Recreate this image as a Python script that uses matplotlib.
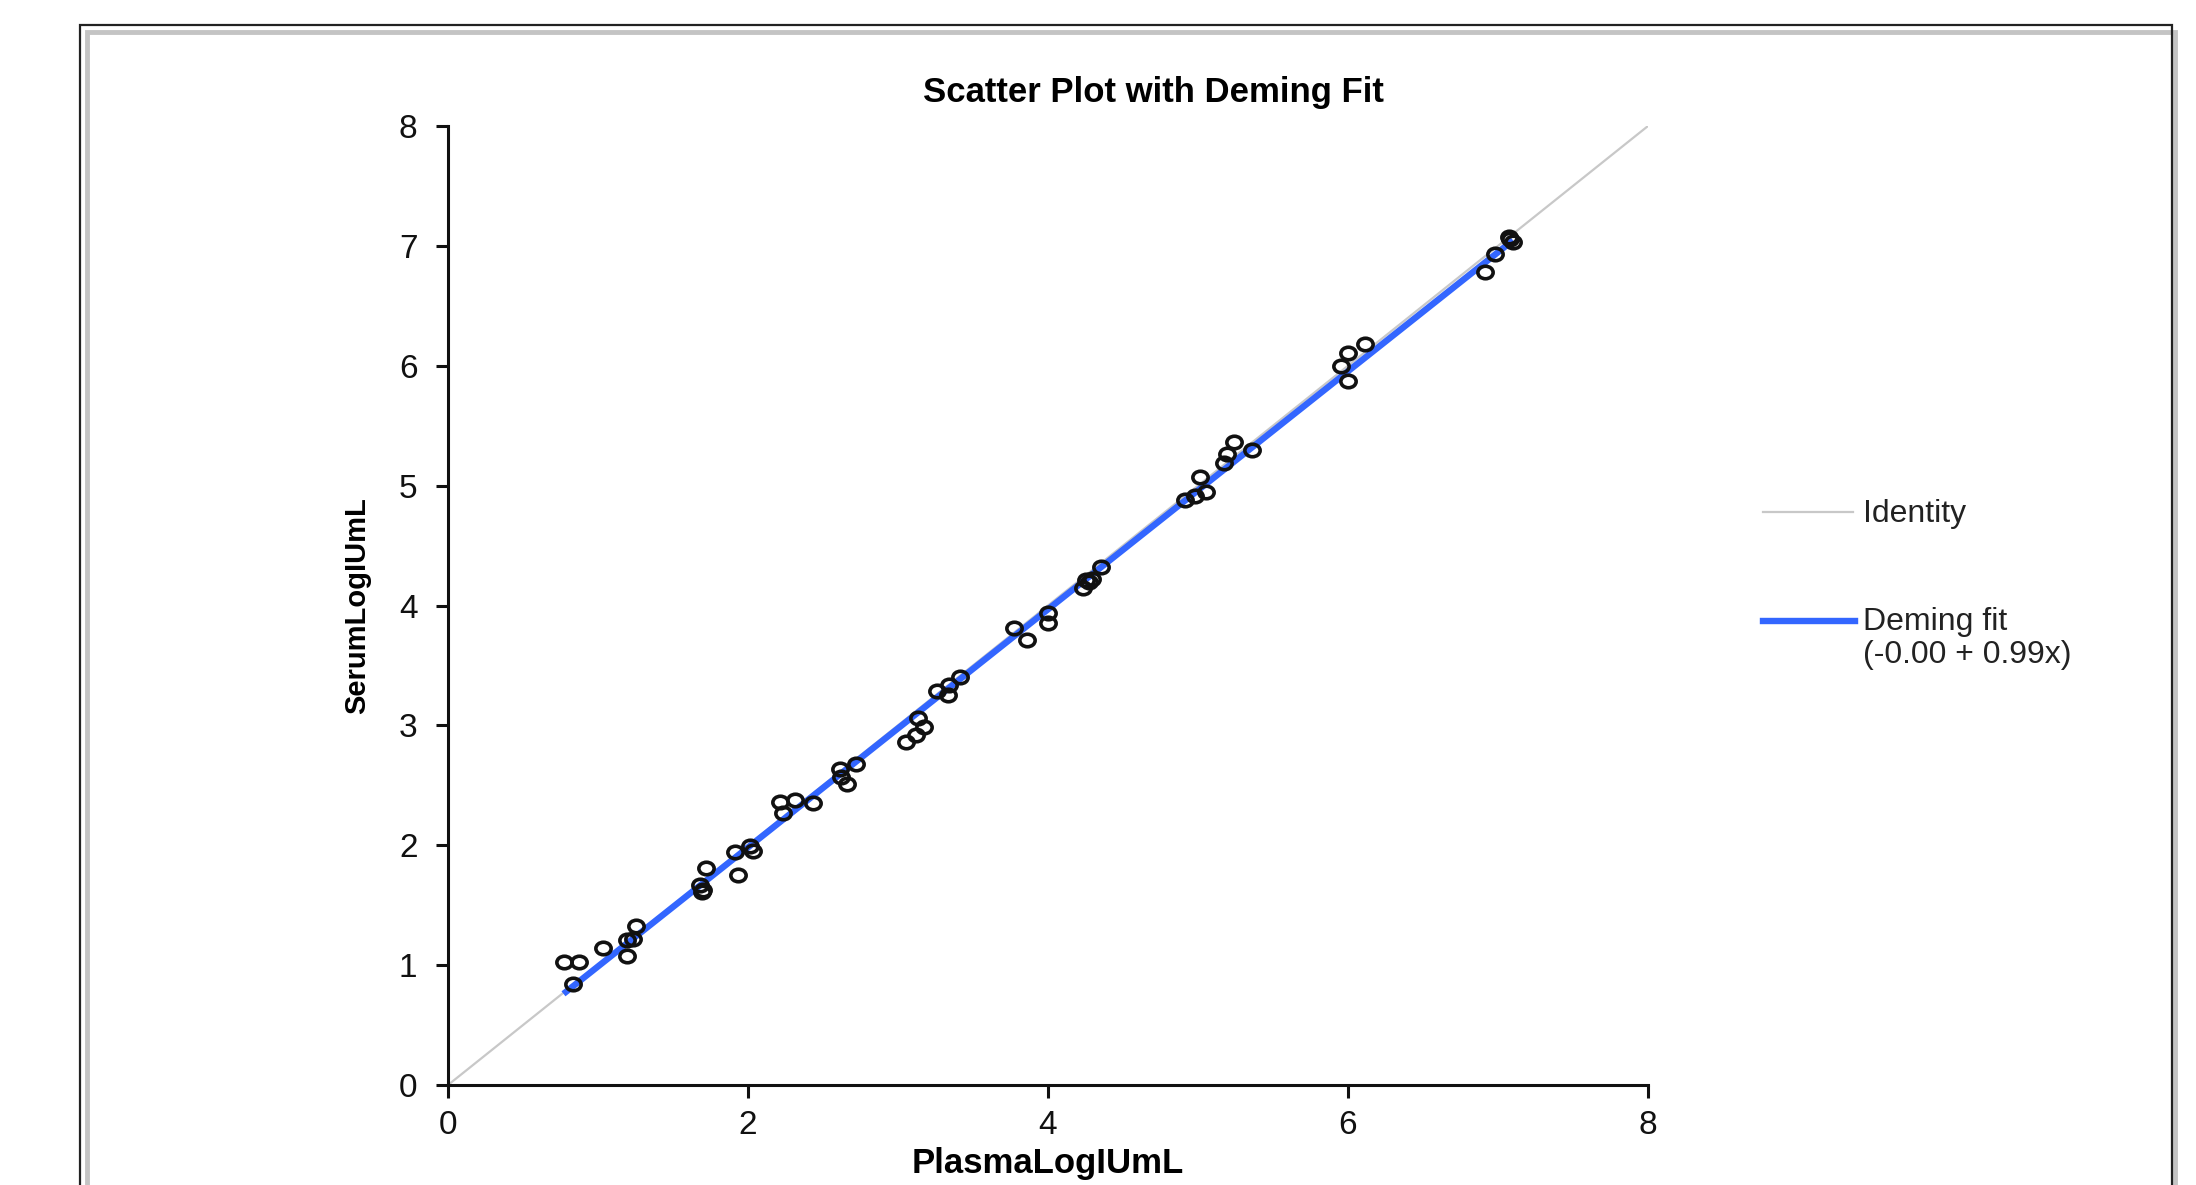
import numpy as np
import matplotlib.pyplot as plt
from matplotlib.path import Path
from matplotlib.markers import MarkerStyle
from matplotlib.transforms import Affine2D
from matplotlib.patches import Rectangle
from matplotlib.lines import Line2D

plt.rcParams['font.family'] = ['Liberation Sans', 'DejaVu Sans']

# data
plasma = [0.77, 0.87, 0.83, 1.03, 1.19, 1.19, 1.23, 1.25, 1.68, 1.69, 1.70, 1.72,
          1.91, 1.93, 2.01, 2.03, 2.21, 2.23, 2.31, 2.43, 2.61, 2.62, 2.66, 2.72,
          3.05, 3.12, 3.17, 3.13, 3.26, 3.33, 3.34, 3.41, 3.77, 3.86, 4.00, 4.00,
          4.23, 4.25, 4.27, 4.29, 4.35, 4.91, 4.98, 5.05, 5.01, 5.17, 5.19, 5.24,
          5.36, 5.95, 6.00, 6.00, 6.11, 6.91, 6.98, 7.07, 7.10, 7.08]
serum = [1.03, 1.03, 0.84, 1.14, 1.08, 1.21, 1.22, 1.33, 1.67, 1.61, 1.63, 1.81,
         1.94, 1.75, 1.99, 1.95, 2.36, 2.27, 2.38, 2.35, 2.64, 2.57, 2.51, 2.68,
         2.86, 2.92, 2.99, 3.06, 3.29, 3.25, 3.34, 3.40, 3.81, 3.71, 3.94, 3.85,
         4.15, 4.21, 4.20, 4.22, 4.32, 4.88, 4.91, 4.95, 5.07, 5.19, 5.26, 5.36,
         5.30, 6.00, 6.11, 5.87, 6.18, 6.78, 6.93, 7.07, 7.03, 7.06]

fit_intercept = -0.004
fit_slope = 0.993

x_ticks = [0, 2, 4, 6, 8]
y_ticks = [0, 1, 2, 3, 4, 5, 6, 7, 8]

W, H = 2196, 1185
fig = plt.figure(figsize=(W / 100, H / 100), dpi=100)
fig.patch.set_facecolor('white')

# frame around the picture (gray shadow + black outline)
fig.patches.append(Rectangle((87 / W, -0.05), (2175 - 87) / W, 1 - 32 / H + 0.05,
                             transform=fig.transFigure, fill=False,
                             edgecolor='#c4c4c4', linewidth=3.5))
fig.patches.append(Rectangle((80 / W, -0.05), (2172 - 80) / W, 1 - 25 / H + 0.05,
                             transform=fig.transFigure, fill=False,
                             edgecolor='#222222', linewidth=1.6))

ax = fig.add_axes([448 / W, 1 - 1085 / H, 1200 / W, 959 / H])
ax.set_xlim(0, 8)
ax.set_ylim(0, 8)

# identity line
ax.plot([0, 8], [0, 8], color='#c8c8c8', lw=1.6, zorder=1)

# deming fit over the data range
xf = np.array([min(plasma), max(plasma)])
ax.plot(xf, fit_intercept + fit_slope * xf, color='#3366ff', lw=4.6,
        solid_capstyle='butt', zorder=2)

# slightly wide open circles, like the stretched original
ell = Path.unit_circle().transformed(Affine2D().scale(1.22, 1.0))
ax.plot(plasma, serum, linestyle='none', marker=MarkerStyle(ell),
        markersize=11, markerfacecolor='none', markeredgecolor='#111111',
        markeredgewidth=2.6, zorder=3)

for s in ['top', 'right']:
    ax.spines[s].set_visible(False)
for s in ['left', 'bottom']:
    ax.spines[s].set_linewidth(2.2)
    ax.spines[s].set_color('#111111')

ax.set_xticks(x_ticks)
ax.set_yticks(y_ticks)
ax.tick_params(axis='both', direction='out', length=9, width=2.2,
               colors='#111111', labelsize=24)
ax.tick_params(axis='x', pad=9)
ax.tick_params(axis='y', pad=13)

ax.set_xlabel('PlasmaLogIUmL', fontsize=25, fontweight='bold')
ax.xaxis.label.set_verticalalignment('baseline')
ax.xaxis.set_label_coords(0.5, -(1173 - 1085) / 959)
ax.set_ylabel('SerumLogIUmL', fontsize=21, fontweight='bold')
ax.yaxis.label.set_verticalalignment('center')
ax.yaxis.set_label_coords((357 - 448) / 1200, 0.5)

fig.text(1153 / W, 1 - 102 / H, 'Scatter Plot with Deming Fit', fontsize=25,
         fontweight='bold', ha='center', va='baseline')

# legend drawn by hand to keep the handle beside the first line
fig.add_artist(Line2D([1763 / W, 1853 / W], [1 - 512 / H, 1 - 512 / H],
                      color='#c8c8c8', lw=1.6))
fig.text(1863 / W, 1 - 522 / H, 'Identity', fontsize=23, va='baseline', color='#222222')
fig.add_artist(Line2D([1763 / W, 1855 / W], [1 - 621 / H, 1 - 621 / H],
                      color='#3366ff', lw=4.6))
fit_label = 'Deming fit\n({:.2f} + {:.2f}x)'.format(fit_intercept, fit_slope)
fig.text(1863 / W, 1 - 663 / H, fit_label, fontsize=23, va='baseline',
         linespacing=1.15, color='#222222')

fig.savefig('out.png', dpi=100)
